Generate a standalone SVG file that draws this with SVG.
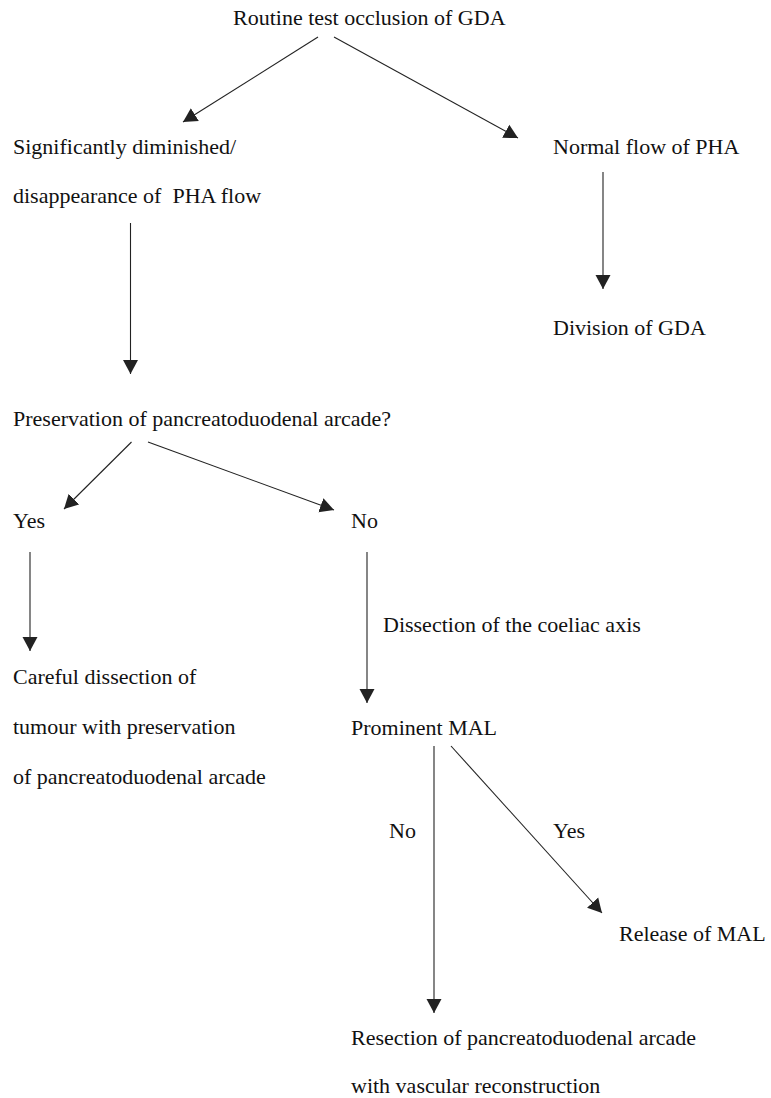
<svg xmlns="http://www.w3.org/2000/svg" width="771" height="1098" viewBox="0 0 771 1098">
<style>
.t text{font-size:22px;fill:#111;white-space:pre}
.c line{stroke:#222;stroke-width:1.1;marker-end:url(#ah)}
</style>
<defs>
<marker id="ah" markerUnits="userSpaceOnUse" markerWidth="16" markerHeight="16" viewBox="0 0 16 16" refX="14" refY="8" orient="auto">
<path d="M0,0.5 L14,8 L0,15.5 Z" fill="#222"/>
</marker>
</defs>
<rect width="771" height="1098" fill="#fff"/>
<g id="connectors" class="c">
<line x1="318" y1="37" x2="183" y2="122"/>
<line x1="334" y1="37" x2="518" y2="138"/>
<line x1="130.5" y1="223" x2="130.5" y2="374"/>
<line x1="603" y1="172" x2="603" y2="289"/>
<line x1="131.5" y1="442" x2="64" y2="509"/>
<line x1="148" y1="442" x2="334" y2="510"/>
<line x1="30" y1="552" x2="30" y2="651"/>
<line x1="367" y1="552" x2="367" y2="703"/>
<line x1="434" y1="746" x2="434" y2="1013"/>
<line x1="451" y1="746" x2="602" y2="913"/>
</g>
<g class="t" font-family="'Liberation Serif', 'DejaVu Serif', serif">
<g id="n-routine"><text x="233" y="25">Routine test occlusion of GDA</text></g>
<g id="n-diminished"><text x="13" y="154">Significantly diminished/</text><text x="13" y="203">disappearance of  PHA flow</text></g>
<g id="n-normal"><text x="553" y="154">Normal flow of PHA</text></g>
<g id="n-division"><text x="553" y="335">Division of GDA</text></g>
<g id="n-preservation"><text x="13" y="426">Preservation of pancreatoduodenal arcade?</text></g>
<g id="n-yes1"><text x="13" y="528">Yes</text></g>
<g id="n-no1"><text x="351" y="528">No</text></g>
<g id="l-dissection"><text x="383" y="632">Dissection of the coeliac axis</text></g>
<g id="n-careful"><text x="13" y="684">Careful dissection of</text><text x="13" y="734">tumour with preservation</text><text x="13" y="784">of pancreatoduodenal arcade</text></g>
<g id="n-mal"><text x="351" y="735">Prominent MAL</text></g>
<g id="l-no2"><text x="389" y="838">No</text></g>
<g id="l-yes2"><text x="553" y="838">Yes</text></g>
<g id="n-release"><text x="619" y="941">Release of MAL</text></g>
<g id="n-resection"><text x="351" y="1045">Resection of pancreatoduodenal arcade</text><text x="351" y="1093">with vascular reconstruction</text></g>
</g>
</svg>
